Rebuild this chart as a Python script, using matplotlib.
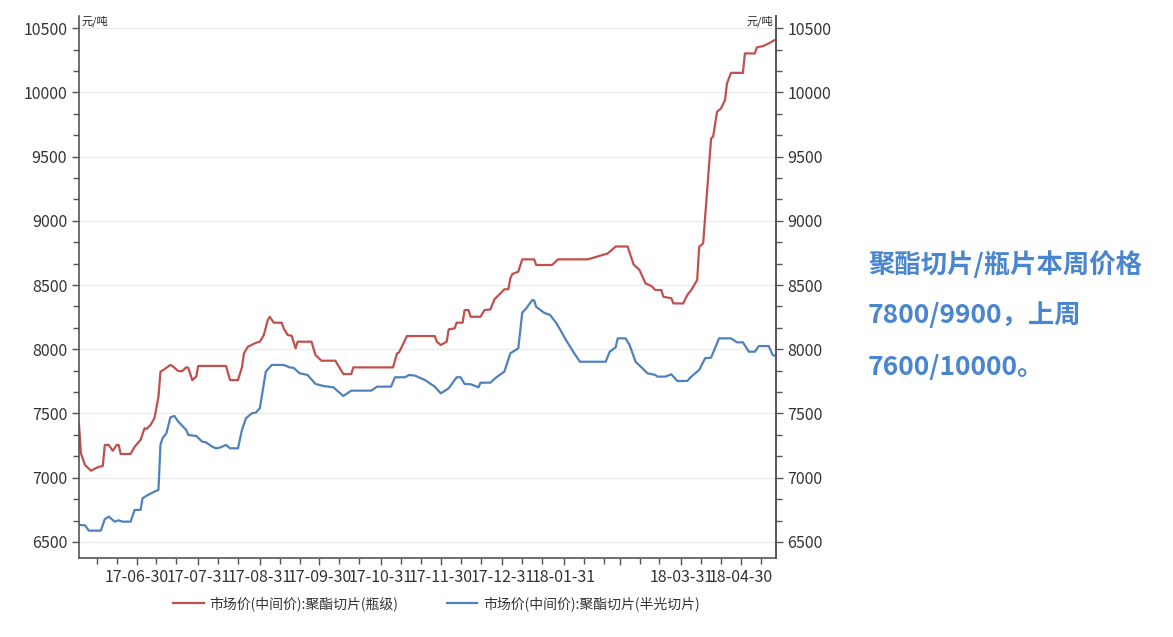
import numpy as np
import pandas as pd
import matplotlib
matplotlib.use('Agg')
import matplotlib.pyplot as plt
import matplotlib.dates as mdates
from matplotlib.ticker import MultipleLocator, AutoMinorLocator, FixedLocator

plt.rcParams['font.family'] = ['Noto Sans CJK SC', 'DejaVu Sans']
plt.rcParams['axes.unicode_minus'] = False

# ============================================================
# DATA  (元/吨)
# ============================================================

BOTTLE_DATES = [
    '2017-06-01', '2017-06-02', '2017-06-04', '2017-06-07', '2017-06-11', '2017-06-13',
    '2017-06-14', '2017-06-16', '2017-06-18', '2017-06-20', '2017-06-21', '2017-06-22',
    '2017-06-27', '2017-06-29', '2017-07-02', '2017-07-04', '2017-07-05', '2017-07-07',
    '2017-07-09', '2017-07-11', '2017-07-12', '2017-07-14', '2017-07-17', '2017-07-18',
    '2017-07-21', '2017-07-23', '2017-07-25', '2017-07-26', '2017-07-28', '2017-07-30',
    '2017-07-31', '2017-08-14', '2017-08-16', '2017-08-20', '2017-08-22', '2017-08-23',
    '2017-08-25', '2017-08-29', '2017-08-31', '2017-09-02', '2017-09-04', '2017-09-05',
    '2017-09-07', '2017-09-11', '2017-09-12', '2017-09-14', '2017-09-16', '2017-09-18',
    '2017-09-19', '2017-09-26', '2017-09-28', '2017-10-01', '2017-10-08', '2017-10-10',
    '2017-10-12', '2017-10-16', '2017-10-17', '2017-11-06', '2017-11-08', '2017-11-09',
    '2017-11-13', '2017-11-27', '2017-11-28', '2017-11-30', '2017-12-03', '2017-12-04',
    '2017-12-07', '2017-12-08', '2017-12-11', '2017-12-12', '2017-12-14', '2017-12-15',
    '2017-12-20', '2017-12-22', '2017-12-25', '2017-12-27', '2017-12-30', '2018-01-01',
    '2018-01-03', '2018-01-04', '2018-01-05', '2018-01-08', '2018-01-10', '2018-01-16',
    '2018-01-17', '2018-01-25', '2018-01-28', '2018-02-12', '2018-02-22', '2018-02-26',
    '2018-03-04', '2018-03-07', '2018-03-10', '2018-03-13', '2018-03-16', '2018-03-18',
    '2018-03-21', '2018-03-22', '2018-03-26', '2018-03-27', '2018-04-01', '2018-04-03',
    '2018-04-05', '2018-04-08', '2018-04-09', '2018-04-11', '2018-04-15', '2018-04-16',
    '2018-04-18', '2018-04-20', '2018-04-22', '2018-04-23', '2018-04-25', '2018-05-01',
    '2018-05-02', '2018-05-07', '2018-05-08', '2018-05-11', '2018-05-14', '2018-05-17',
]
BOTTLE_PRICE = [
    7420, 7190, 7100, 7055, 7085, 7090,
    7255, 7255, 7210, 7255, 7255, 7185,
    7185, 7240, 7295, 7385, 7380, 7410,
    7465, 7630, 7825, 7845, 7878, 7870,
    7830, 7830, 7860, 7855, 7760, 7787,
    7870, 7870, 7760, 7760, 7860, 7968,
    8020, 8050, 8059, 8111, 8228, 8253,
    8207, 8207, 8163, 8111, 8105, 8007,
    8059, 8059, 7955, 7911, 7911, 7859,
    7807, 7807, 7859, 7859, 7968, 7975,
    8103, 8103, 8059, 8033, 8059, 8155,
    8163, 8207, 8207, 8305, 8305, 8253,
    8253, 8305, 8310, 8389, 8435, 8467,
    8467, 8552, 8586, 8604, 8700, 8700,
    8656, 8656, 8700, 8700, 8746, 8800,
    8800, 8661, 8617, 8513, 8492, 8461,
    8461, 8409, 8397, 8357, 8357, 8422,
    8461, 8539, 8798, 8824, 9642, 9654,
    9849, 9875, 9940, 10070, 10152, 10152,
    10303, 10303, 10350, 10360, 10381, 10407,
]

SEMI_DATES = [
    '2017-06-01', '2017-06-04', '2017-06-06', '2017-06-12', '2017-06-14', '2017-06-16',
    '2017-06-19', '2017-06-21', '2017-06-23', '2017-06-27', '2017-06-29', '2017-07-02',
    '2017-07-03', '2017-07-05', '2017-07-09', '2017-07-11', '2017-07-12', '2017-07-13',
    '2017-07-15', '2017-07-17', '2017-07-19', '2017-07-21', '2017-07-25', '2017-07-26',
    '2017-07-30', '2017-08-02', '2017-08-04', '2017-08-07', '2017-08-09', '2017-08-11',
    '2017-08-14', '2017-08-16', '2017-08-20', '2017-08-22', '2017-08-24', '2017-08-27',
    '2017-08-29', '2017-08-31', '2017-09-03', '2017-09-06', '2017-09-12', '2017-09-15',
    '2017-09-17', '2017-09-20', '2017-09-24', '2017-09-28', '2017-10-02', '2017-10-07',
    '2017-10-12', '2017-10-16', '2017-10-26', '2017-10-29', '2017-11-05', '2017-11-07',
    '2017-11-12', '2017-11-14', '2017-11-17', '2017-11-22', '2017-11-27', '2017-11-30',
    '2017-12-04', '2017-12-08', '2017-12-10', '2017-12-12', '2017-12-15', '2017-12-19',
    '2017-12-20', '2017-12-25', '2017-12-28', '2018-01-01', '2018-01-04', '2018-01-08',
    '2018-01-10', '2018-01-12', '2018-01-15', '2018-01-16', '2018-01-17', '2018-01-21',
    '2018-01-24', '2018-01-27', '2018-01-29', '2018-02-01', '2018-02-05', '2018-02-08',
    '2018-02-21', '2018-02-23', '2018-02-26', '2018-02-27', '2018-03-03', '2018-03-05',
    '2018-03-08', '2018-03-12', '2018-03-14', '2018-03-18', '2018-03-19', '2018-03-23',
    '2018-03-26', '2018-03-29', '2018-04-03', '2018-04-05', '2018-04-09', '2018-04-12',
    '2018-04-15', '2018-04-19', '2018-04-25', '2018-04-28', '2018-05-01', '2018-05-04',
    '2018-05-07', '2018-05-09', '2018-05-14', '2018-05-16', '2018-05-17',
]
SEMI_PRICE = [
    6632, 6630, 6588, 6588, 6677, 6697,
    6658, 6668, 6658, 6658, 6749, 6750,
    6840, 6860, 6892, 6905, 7255, 7307,
    7346, 7470, 7481, 7436, 7372, 7333,
    7325, 7281, 7275, 7242, 7229, 7235,
    7255, 7229, 7229, 7372, 7463, 7502,
    7507, 7541, 7826, 7878, 7878, 7859,
    7855, 7813, 7800, 7730, 7714, 7704,
    7636, 7678, 7678, 7709, 7709, 7782,
    7782, 7800, 7795, 7761, 7709, 7657,
    7696, 7782, 7782, 7730, 7728, 7704,
    7740, 7740, 7782, 7826, 7968, 8007,
    8285, 8318, 8383, 8380, 8331, 8284,
    8267, 8207, 8155, 8072, 7973, 7903,
    7903, 7981, 8015, 8085, 8085, 8033,
    7903, 7844, 7813, 7800, 7787, 7787,
    7805, 7753, 7753, 7787, 7839, 7930,
    7935, 8085, 8085, 8054, 8054, 7981,
    7981, 8025, 8025, 7955, 7950,
]

SERIES_NAMES = ['市场价(中间价):聚酯切片(瓶级)', '市场价(中间价):聚酯切片(半光切片)']
SERIES_COLORS = ['#c0504d', '#4f81bd']

MONTH_ENDS = ['2017-06-30', '2017-07-31', '2017-08-31', '2017-09-30', '2017-10-31',
              '2017-11-30', '2017-12-31', '2018-01-31', '2018-02-28', '2018-03-31',
              '2018-04-30']
MONTH_LABELS = ['17-06-30', '17-07-31', '17-08-31', '17-09-30', '17-10-31',
                '17-11-30', '17-12-31', '18-01-31', '', '18-03-31', '18-04-30']

Y_TICKS = [6500, 7000, 7500, 8000, 8500, 9000, 9500, 10000, 10500]
UNIT = '元/吨'
NOTE_LINES = ['聚酯切片/瓶片本周价格', '7800/9900，上周', '7600/10000。']

# ============================================================
# PLOT
# ============================================================

fig = plt.figure(figsize=(11.73, 6.37), dpi=100)
ax = fig.add_axes([0.0673, 0.124, 0.594, 0.851])

bottle_x = pd.to_datetime(BOTTLE_DATES)
semi_x = pd.to_datetime(SEMI_DATES)

l1, = ax.plot(bottle_x, BOTTLE_PRICE, color=SERIES_COLORS[0], lw=1.6)
l2, = ax.plot(semi_x, SEMI_PRICE, color=SERIES_COLORS[1], lw=1.6)

ax.set_xlim(pd.Timestamp('2017-06-01'), pd.Timestamp('2018-05-17 12:00'))
ax.set_ylim(6375, 10595)

axis_color = '#555555'
ax.spines['top'].set_visible(False)
for side in ['left', 'right', 'bottom']:
    ax.spines[side].set_color(axis_color)
    ax.spines[side].set_linewidth(1.2)

ax.yaxis.set_major_locator(FixedLocator(Y_TICKS))
ax.yaxis.set_minor_locator(AutoMinorLocator(3))
ax.grid(axis='y', which='major', color='#ebebeb', lw=0.8)
ax.set_axisbelow(True)

major_x = pd.to_datetime(MONTH_ENDS)
ax.set_xticks(major_x)
ax.set_xticklabels(MONTH_LABELS)
minor_days = []
for m in pd.date_range('2017-06-01', '2018-05-01', freq='MS'):
    minor_days.append(m + pd.Timedelta(days=9))
    minor_days.append(m + pd.Timedelta(days=19))
ax.xaxis.set_minor_locator(FixedLocator(mdates.date2num(minor_days)))

label_size = 11.5
ax.tick_params(axis='both', which='both', direction='out', color=axis_color,
               labelsize=label_size, labelcolor='#333333')
ax.tick_params(axis='both', which='major', length=5, width=1)
ax.tick_params(axis='both', which='minor', length=4, width=1)
ax.tick_params(axis='x', which='major', pad=3)

ax2 = ax.twinx()
ax2.set_ylim(ax.get_ylim())
ax2.yaxis.set_major_locator(FixedLocator(Y_TICKS))
ax2.yaxis.set_minor_locator(AutoMinorLocator(3))
ax2.tick_params(axis='y', which='both', direction='out', color=axis_color,
                labelsize=label_size, labelcolor='#333333')
ax2.tick_params(axis='y', which='major', length=5, width=1)
ax2.tick_params(axis='y', which='minor', length=4, width=1)
for side in ['top', 'left', 'bottom']:
    ax2.spines[side].set_visible(False)
ax2.spines['right'].set_color(axis_color)
ax2.spines['right'].set_linewidth(1.2)

ax.text(0.003, 1.0, UNIT, transform=ax.transAxes, fontsize=8, va='top', ha='left',
        color='#222222')
ax.text(0.997, 1.0, UNIT, transform=ax.transAxes, fontsize=8, va='top', ha='right',
        color='#222222')

fig.legend([l1, l2], SERIES_NAMES, loc='center', bbox_to_anchor=(0.372, 0.053),
           ncol=2, frameon=False, fontsize=10, handlelength=2.2, columnspacing=3.5,
           handletextpad=0.4)
for txt in fig.legends[0].get_texts():
    txt.set_color('#333333')

note_y = [265, 316, 368]
for line, yy in zip(NOTE_LINES, note_y):
    fig.text(868 / 1173, 1 - yy / 637, line, fontsize=19, fontweight='bold',
             color='#4a86cf', va='center', ha='left')

fig.savefig('out.png', dpi=100)
